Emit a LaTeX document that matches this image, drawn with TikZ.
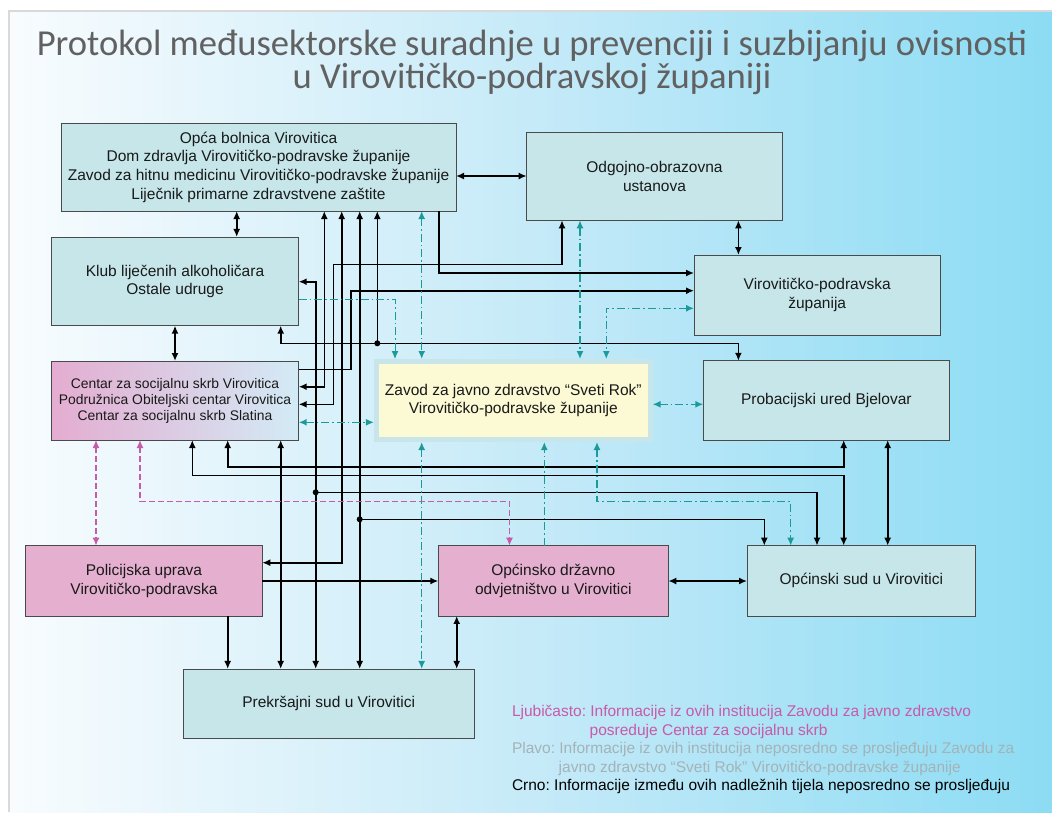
\documentclass[tikz,border=0pt]{standalone}
\usepackage{fontspec}
\setmainfont{Liberation Sans}
\newfontfamily\titlefont{Carlito}
\usepackage{tikz}
\usetikzlibrary{arrows.meta}
\definecolor{boxfill}{HTML}{C6E6EA}
\definecolor{boxline}{HTML}{4A4A4A}
\definecolor{pinkfill}{HTML}{E5B0CF}
\definecolor{csrleft}{HTML}{E4ACD0}
\definecolor{csrright}{HTML}{D3EBF6}
\definecolor{tealline}{HTML}{1B9A9B}
\definecolor{magline}{HTML}{C85AAA}
\definecolor{zavodfill}{HTML}{FBFAD5}
\definecolor{zavodglow}{HTML}{C8E6EA}
\definecolor{legendgray}{HTML}{A3B3B8}
\definecolor{bgleft}{HTML}{F8FCFE}
\definecolor{bgmid}{HTML}{C6EAF8}
\definecolor{bgright}{HTML}{8CDCF4}

\begin{document}
\frenchspacing
\begin{tikzpicture}[x=1pt,y=-1pt,
  >={Latex[length=8pt,width=7pt]},
  inst/.style={draw=boxline,line width=0.9pt,fill=boxfill,inner sep=2pt,outer sep=0pt,
    align=center,text=black!90,font=\fontsize{15.5}{18.6}\selectfont},
  pinkinst/.style={inst,fill=pinkfill},
  blackln/.style={line width=1.6pt},
  tealln/.style={tealline,line width=1.5pt,dash pattern=on 8pt off 3pt on 1.5pt off 3pt},
  magln/.style={magline,line width=1.4pt,dash pattern=on 6pt off 3pt},
  junction/.style={circle,fill=black,inner sep=0pt,minimum size=6pt},
  legend/.style={anchor=base west,inner sep=0pt,font=\fontsize{15.5}{18.6}\selectfont}
]
  \useasboundingbox (0,0) rectangle (1052,812);
  \fill[white] (0,0) rectangle (1052,812);
  \fill[black!15] (8,10) rectangle (1052,812);
  \shade[left color=bgleft,right color=bgright,middle color=bgmid] (10,12) rectangle (1052,812);

  \node[anchor=base,inner sep=0pt,align=center,text=black!62,font=\titlefont\fontsize{36.6}{33.3}\selectfont] (title) at (532,88.3)
    {Protokol međusektorske suradnje u prevenciji i suzbijanju ovisnosti\\u Virovitičko-podravskoj županiji};

  \node[inst,minimum width=395pt,minimum height=88pt] (bolnica) at (258.5,167)
    {Opća bolnica Virovitica\\Dom zdravlja Virovitičko-podravske županije\\Zavod za hitnu medicinu Virovitičko-podravske županije\\Liječnik primarne zdravstvene zaštite};
  \node[inst,minimum width=255.6pt,minimum height=88pt] (odgoj) at (654.5,176.3) {Odgojno-obrazovna\\ustanova};
  \node[inst,minimum width=247.4pt,minimum height=88.7pt] (klub) at (175,281.3) {Klub liječenih alkoholičara\\Ostale udruge};
  \node[inst,minimum width=246.3pt,minimum height=80pt] (zupanija) at (817.2,295) {Virovitičko-podravska\\županija};
  \node[inst,left color=csrleft,right color=csrright,minimum width=247.4pt,minimum height=79pt,
    font=\fontsize{13.9}{16}\selectfont] (csr) at (175,400.5)
    {Centar za socijalnu skrb Virovitica\\Podružnica Obiteljski centar Virovitica\\Centar za socijalnu skrb Slatina};
  \node[inst,fill=zavodfill,draw=zavodglow,line width=5pt,outer sep=2.5pt,minimum width=273.7pt,minimum height=78pt] (zavod) at (513.3,400.5)
    {Zavod za javno zdravstvo “Sveti Rok”\\Virovitičko-podravske županije};
  \node[inst,minimum width=246pt,minimum height=79.3pt] (probacija) at (826.3,400.4) {Probacijski ured Bjelovar};
  \node[pinkinst,minimum width=236.6pt,minimum height=70.3pt] (policija) at (144,580.8) {Policijska uprava\\Virovitičko-podravska};
  \node[pinkinst,minimum width=230pt,minimum height=70.3pt] (odvjet) at (553.3,580.8) {Općinsko državno\\odvjetništvo u Virovitici};
  \node[inst,minimum width=228.6pt,minimum height=70.3pt] (opsud) at (861.3,580.8) {Općinski sud u Virovitici};
  \node[inst,minimum width=290.7pt,minimum height=69.7pt] (prekrsaj) at (328.7,703.8) {Prekršajni sud u Virovitici};

  \node[junction] (jklub) at (315.7,492.3) {};
  \node[junction] (jbolnica) at (359.7,519.3) {};
  \node[junction] (jbus) at (377.3,343.3) {};

  % crno
  \draw[blackln,<->] (bolnica.east |- 0,176) -- (odgoj.west |- 0,176);
  \draw[blackln,<->] (236.7,0 |- bolnica.south) -- (236.7,0 |- klub.north);
  \draw[blackln,<->] (klub.south) -- (csr.north);
  \draw[blackln,<->] (csr.east |- 0,386.7) -| (324.3,0 |- bolnica.south);
  \draw[blackln,<->] (csr.east |- 0,404.3) -| (333.3,264.3) -| (562,0 |- odgoj.south);
  \draw[blackln,<->] (341.7,0 |- bolnica.south) |- (policija.east |- 0,562.7);
  \draw[blackln,->] (csr.east |- 0,369.3) -| (350.7,290.7) -- (zupanija.west |- 0,290.7);
  \draw[blackln,->] (438.7,0 |- bolnica.south) |- (zupanija.west |- 0,273);
  \draw[blackln,<->] (klub.east |- 0,281.7) -| (315.7,0 |- prekrsaj.north);
  \draw[blackln,->] (jklub.center) -| (817,0 |- opsud.north);
  \draw[blackln,<->] (359.7,0 |- bolnica.south) -- (359.7,0 |- prekrsaj.north);
  \draw[blackln,->] (jbolnica.center) -| (764.3,0 |- opsud.north);
  \draw[blackln,->] (jbus.center) -- (377.3,0 |- bolnica.south);
  \draw[blackln,<->] (280.7,0 |- klub.south) |- (738.4,343.3) -- (738.4,0 |- probacija.north);
  \draw[blackln,<->] (738.4,0 |- odgoj.south) -- (738.4,0 |- zupanija.north);
  \draw[blackln,<->] (280.7,0 |- csr.south) -- (280.7,0 |- prekrsaj.north);
  \draw[blackln,<->] (227.7,0 |- csr.south) |- (843.7,466.7) -- (843.7,0 |- probacija.south);
  \draw[blackln,<->] (192.3,0 |- csr.south) |- (843.7,475.3) -- (843.7,0 |- opsud.north);
  \draw[blackln,<->] (887.7,0 |- probacija.south) -- (887.7,0 |- opsud.north);
  \draw[blackln,->] (227.7,0 |- policija.south) -- (227.7,0 |- prekrsaj.north);
  \draw[blackln,->] (policija.east |- 0,581) -- (odvjet.west |- 0,581);
  \draw[blackln,<->] (odvjet.east |- 0,581) -- (opsud.west |- 0,581);
  \draw[blackln,<->] (456.7,0 |- odvjet.south) -- (456.7,0 |- prekrsaj.north);

  % plavo
  \draw[tealln,->,line width=1pt] (klub.east |- 0,299.3) -| (395,0 |- zavod.north);
  \draw[tealln,<->] (421.7,0 |- bolnica.south) -- (421.7,0 |- zavod.north);
  \draw[tealln,<->] (421.7,0 |- zavod.south) -- (421.7,0 |- prekrsaj.north);
  \draw[tealln,<->] (580,0 |- odgoj.south) -- (580,0 |- zavod.north);
  \draw[tealln,<->] (zupanija.west |- 0,308.3) -| (606.3,0 |- zavod.north);
  \draw[tealln,<->] (csr.east |- 0,422.3) -- (zavod.west |- 0,422.3);
  \draw[tealln,<->] (zavod.east |- 0,404.3) -- (probacija.west |- 0,404.3);
  \draw[tealln,->] (544.3,0 |- odvjet.north) -- (544.3,0 |- zavod.south);
  \draw[tealln,<->] (597,0 |- zavod.south) |- (790.7,501.7) -- (790.7,0 |- opsud.north);

  % ljubicasto
  \draw[magln,<->] (96,0 |- csr.south) -- (96,0 |- policija.north);
  \draw[magln,<->] (140,0 |- csr.south) |- (509.5,501.7) -- (509.5,0 |- odvjet.north);

  \node[legend,text=magline] (legL1) at (511.8,716.5) {Ljubičasto: Informacije iz ovih institucija Zavodu za javno zdravstvo};
  \node[legend,text=magline] (legL2) at (589.5,735.3) {posreduje Centar za socijalnu skrb};
  \node[legend,text=legendgray] (legP1) at (511.8,753.8) {Plavo: Informacije iz ovih institucija neposredno se prosljeđuju Zavodu za};
  \node[legend,text=legendgray] (legP2) at (558.5,772.4) {javno zdravstvo “Sveti Rok” Virovitičko-podravske županije};
  \node[legend,text=black] (legC) at (511.8,790.8) {Crno: Informacije između ovih nadležnih tijela neposredno se prosljeđuju};
\end{tikzpicture}
\end{document}
